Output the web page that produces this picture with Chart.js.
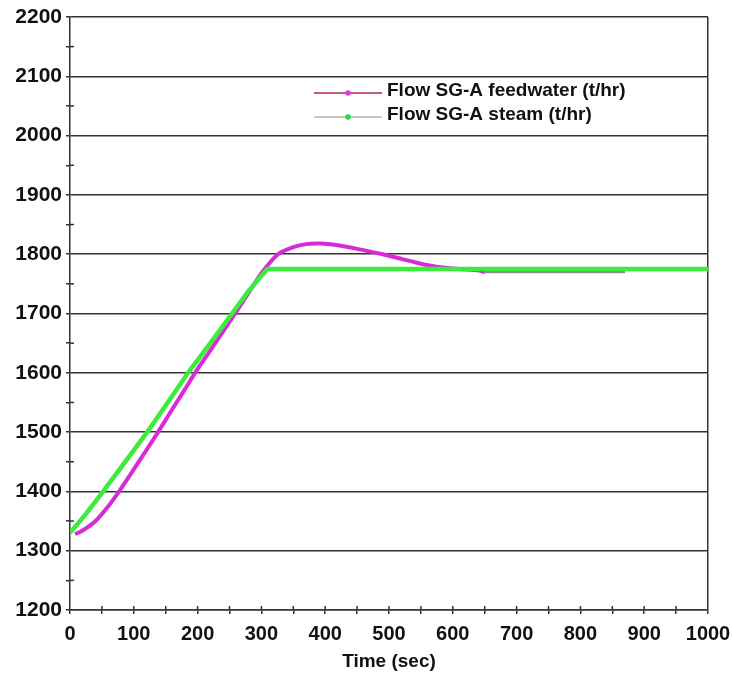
<!DOCTYPE html>
<html>
<head>
<meta charset="utf-8">
<script src="https://cdn.jsdelivr.net/npm/chart.js@4.4.1/dist/chart.umd.min.js"></script>
<style>
  html, body { margin: 0; padding: 0; background: #fff; }
  #wrap { width: 732px; height: 678px; }
</style>
</head>
<body>
<div id="wrap"><canvas id="flowChart" width="732" height="678"></canvas></div>
<script>
// Donnees
const feedTime = [8, 20, 40, 60, 77, 100, 120, 138, 160, 180, 196, 220, 240, 259, 280, 300, 326, 350, 370, 392, 420, 450, 490, 520, 550, 580, 610, 640, 650, 700, 800, 870];
const feedFlow = [1328, 1334, 1350, 1375, 1400, 1437, 1470, 1500, 1538, 1572, 1600, 1638, 1670, 1700, 1735, 1768, 1800, 1812, 1817, 1818, 1815, 1809, 1800, 1792, 1784, 1778, 1775, 1773, 1770, 1770, 1770, 1770];
const steamTime = [0, 25, 52, 90, 121, 150, 185, 220, 254, 280, 309, 1000];
const steamFlow = [1330, 1362, 1400, 1455, 1500, 1545, 1600, 1650, 1700, 1738, 1775, 1775];
const seriesLabels = ['Flow SG-A feedwater (t/hr)', 'Flow SG-A steam (t/hr)'];
const xTitle = 'Time (sec)';

const DARK = '#333333';
const MAGENTA = '#d82ad8';
const GREEN = '#3cec3c';

// petites graduations qui traversent les axes
const innerTicks = {
  id: 'innerTicks',
  afterDraw(chart) {
    const c = chart.ctx;
    const xs = chart.scales.x;
    const ys = chart.scales.y;
    c.save();
    c.strokeStyle = DARK;
    c.lineWidth = 1.5;
    ys.ticks.forEach(t => {
      if (t.value % 100 === 0) return;
      const y = ys.getPixelForValue(t.value);
      c.beginPath();
      c.moveTo(xs.left, y);
      c.lineTo(xs.left + 4, y);
      c.stroke();
    });
    xs.ticks.forEach(t => {
      if (t.value === 0 || t.value === 1000) return;
      const x = xs.getPixelForValue(t.value);
      c.beginPath();
      c.moveTo(x, ys.bottom);
      c.lineTo(x, ys.bottom - 4);
      c.stroke();
    });
    c.restore();
  }
};

// legende dessinee dans la zone du graphique
const insideLegend = {
  id: 'insideLegend',
  afterDraw(chart) {
    const c = chart.ctx;
    const rows = [
      { y: 93, line: '#c45a90', dot: '#e03ce0', text: seriesLabels[0] },
      { y: 117, line: '#c8c8b4', dot: '#22dd44', text: seriesLabels[1] }
    ];
    c.save();
    rows.forEach(r => {
      c.strokeStyle = r.line;
      c.lineWidth = 2;
      c.beginPath();
      c.moveTo(314, r.y);
      c.lineTo(382, r.y);
      c.stroke();
      c.fillStyle = r.dot;
      c.beginPath();
      c.arc(348, r.y, 2.8, 0, Math.PI * 2);
      c.fill();
      c.fillStyle = '#111';
      c.font = 'bold 19px "Liberation Sans", Arial, sans-serif';
      c.textBaseline = 'middle';
      c.textAlign = 'left';
      c.fillText(r.text, 387, r.y - 2);
    });
    c.restore();
  }
};

new Chart(document.getElementById('flowChart'), {
  type: 'line',
  data: {
    datasets: [
      {
        label: seriesLabels[0],
        data: feedTime.map((t, i) => ({ x: t, y: feedFlow[i] })),
        borderColor: MAGENTA,
        borderWidth: 4,
        pointRadius: 0,
        tension: 0.2,
        order: 1,
        segment: {
          borderColor: ctx => ctx.p0.parsed.x >= 650 ? '#8a8a8a' : MAGENTA,
          borderWidth: ctx => ctx.p0.parsed.x >= 650 ? 2.5 : 4
        }
      },
      {
        label: seriesLabels[1],
        data: steamTime.map((t, i) => ({ x: t, y: steamFlow[i] })),
        borderColor: GREEN,
        borderWidth: 4.5,
        pointRadius: 0,
        tension: 0,
        order: 0
      }
    ]
  },
  options: {
    responsive: false,
    animation: false,
    layout: { padding: { top: 17, right: 24, bottom: 0, left: 0 } },
    plugins: {
      legend: { display: false },
      tooltip: { enabled: false }
    },
    scales: {
      x: {
        type: 'linear',
        min: 0,
        max: 1000,
        afterFit: s => { s.height = 68; s.paddingLeft = 0; s.paddingRight = 0; },
        border: { color: DARK, width: 1.5 },
        grid: {
          color: ctx => ctx.tick && ctx.tick.value === 1000 ? DARK : 'rgba(0,0,0,0)',
          lineWidth: 1.5,
          tickColor: DARK,
          tickLength: 4
        },
        ticks: {
          stepSize: 50,
          maxRotation: 0,
          autoSkip: false,
          padding: 8,
          color: '#111',
          font: { family: '"Liberation Sans", Arial, sans-serif', weight: 'bold', size: 20 },
          callback: v => v % 100 === 0 ? v : ''
        },
        title: {
          display: true,
          text: xTitle,
          color: '#111',
          padding: { top: 2, bottom: 5 },
          font: { family: '"Liberation Sans", Arial, sans-serif', weight: 'bold', size: 19 }
        }
      },
      y: {
        min: 1200,
        max: 2200,
        afterFit: s => { s.width = 70; s.paddingTop = 0; s.paddingBottom = 0; },
        border: { color: DARK, width: 1.5 },
        grid: {
          color: ctx => ctx.tick && ctx.tick.value % 100 === 0 ? DARK : 'rgba(0,0,0,0)',
          lineWidth: 1.5,
          tickColor: DARK,
          tickLength: 4
        },
        ticks: {
          stepSize: 50,
          autoSkip: false,
          padding: 4,
          color: '#111',
          font: { family: '"Liberation Sans", Arial, sans-serif', weight: 'bold', size: 21 },
          callback: v => v % 100 === 0 ? v : ''
        }
      }
    }
  },
  plugins: [innerTicks, insideLegend]
});
</script>
</body>
</html>
